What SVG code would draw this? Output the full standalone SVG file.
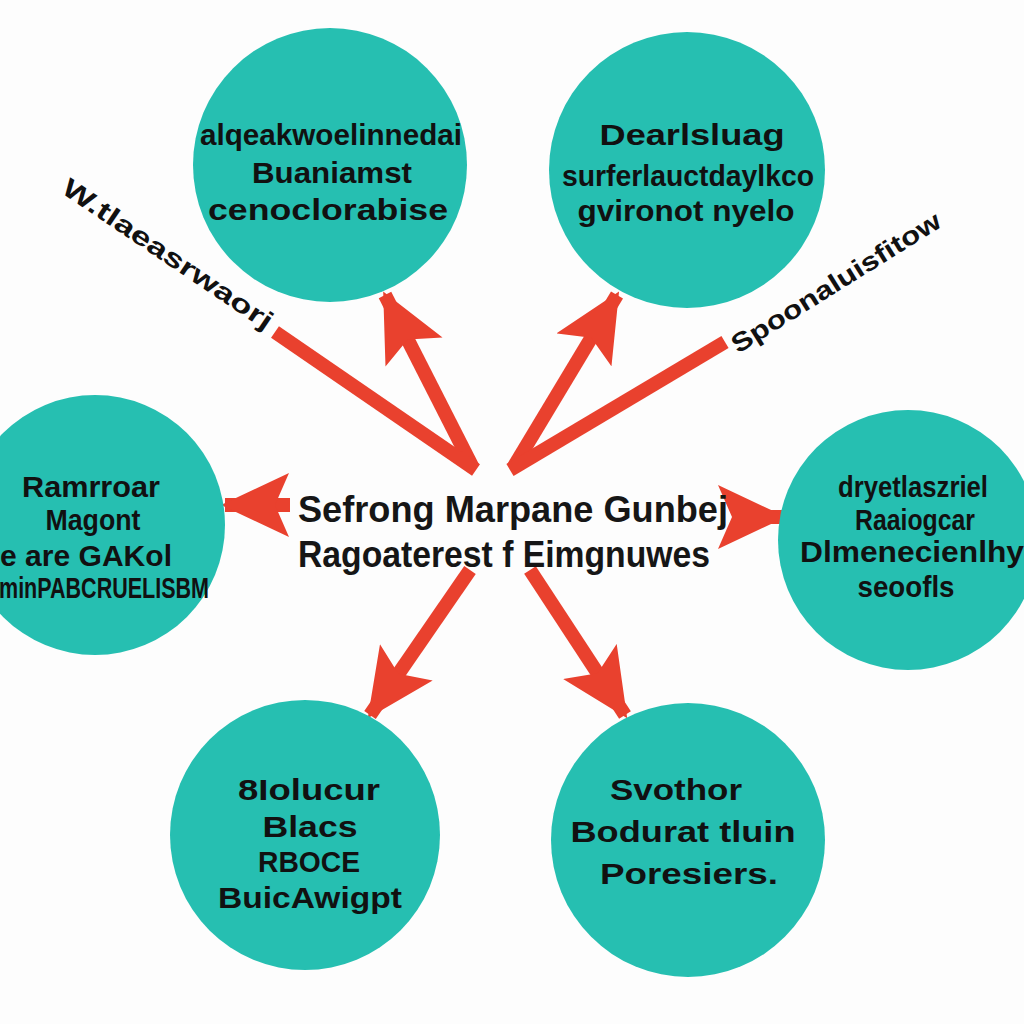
<svg xmlns="http://www.w3.org/2000/svg" width="1024" height="1024" viewBox="0 0 1024 1024">
<style>
.node{fill:#26bfb1}
.t{font-family:"Liberation Sans",Arial,sans-serif;font-weight:bold;fill:#111;text-anchor:middle}
.nt{font-size:29px}
.ct{font-size:37px;fill:#161616}
.lab{font-size:26px;text-anchor:start}
.ln{stroke:#e9412e;stroke-width:14;fill:none;stroke-linecap:butt}
</style>
<defs>
<marker id="ah" markerUnits="userSpaceOnUse" markerWidth="68" markerHeight="64" viewBox="0 0 68 64" refX="64" refY="32" orient="auto">
<path d="M0,0 L68,32 L0,64 L14,32 z" fill="#e9412e"/>
</marker>
</defs>
<rect width="1024" height="1024" fill="#fdfdfd"/>
<g id="connectors">
<line class="ln" x1="473" y1="468" x2="385" y2="295" marker-end="url(#ah)"/>
<line class="ln" x1="513" y1="468" x2="617" y2="295" marker-end="url(#ah)"/>
<line class="ln" x1="290" y1="505" x2="225" y2="505" marker-end="url(#ah)"/>
<line class="ln" x1="732" y1="517" x2="782" y2="517" marker-end="url(#ah)"/>
<line class="ln" x1="470" y1="570" x2="370" y2="715" marker-end="url(#ah)"/>
<line class="ln" x1="530" y1="570" x2="625" y2="715" marker-end="url(#ah)"/>
<line class="ln" x1="275" y1="332" x2="476" y2="470"/>
<line class="ln" x1="510" y1="470" x2="725" y2="342"/>
</g>
<g id="node-tl">
<circle class="node" cx="330" cy="165" r="137"/>
<text class="t nt" x="331" y="145" textLength="262" lengthAdjust="spacingAndGlyphs">alqeakwoelinnedai</text>
<text class="t nt" x="332" y="183" textLength="160" lengthAdjust="spacingAndGlyphs">Buaniamst</text>
<text class="t nt" x="328" y="220" textLength="240" lengthAdjust="spacingAndGlyphs">cenoclorabise</text>
</g>
<g id="node-tr">
<circle class="node" cx="687" cy="170" r="138"/>
<text class="t nt" x="692" y="145" textLength="185" lengthAdjust="spacingAndGlyphs">Dearlsluag</text>
<text class="t nt" x="688" y="186" textLength="252" lengthAdjust="spacingAndGlyphs">surferlauctdaylkco</text>
<text class="t nt" x="686" y="221" textLength="217" lengthAdjust="spacingAndGlyphs">gvironot nyelo</text>
</g>
<g id="node-l">
<circle class="node" cx="95" cy="525" r="130"/>
<text class="t nt" x="91" y="497" textLength="138" lengthAdjust="spacingAndGlyphs">Ramrroar</text>
<text class="t nt" x="93" y="530" textLength="95" lengthAdjust="spacingAndGlyphs">Magont</text>
<text class="t nt" x="86" y="566" textLength="172" lengthAdjust="spacingAndGlyphs">e are GAKol</text>
<text class="t nt" x="104" y="598" textLength="210" lengthAdjust="spacingAndGlyphs">minPABCRUELISBM</text>
</g>
<g id="node-r">
<circle class="node" cx="908" cy="540" r="130"/>
<text class="t nt" x="913" y="497" textLength="150" lengthAdjust="spacingAndGlyphs">dryetlaszriel</text>
<text class="t nt" x="915" y="530" textLength="120" lengthAdjust="spacingAndGlyphs">Raaiogcar</text>
<text class="t nt" x="912" y="562" textLength="224" lengthAdjust="spacingAndGlyphs">Dlmenecienlhy</text>
<text class="t nt" x="906" y="597" textLength="97" lengthAdjust="spacingAndGlyphs">seoofls</text>
</g>
<g id="node-bl">
<circle class="node" cx="305" cy="835" r="135"/>
<text class="t nt" x="309" y="800" textLength="142" lengthAdjust="spacingAndGlyphs">8Iolucur</text>
<text class="t nt" x="310" y="837" textLength="95" lengthAdjust="spacingAndGlyphs">Blacs</text>
<text class="t nt" x="309" y="872" textLength="102" lengthAdjust="spacingAndGlyphs">RBOCE</text>
<text class="t nt" x="310" y="908" textLength="184" lengthAdjust="spacingAndGlyphs">BuicAwigpt</text>
</g>
<g id="node-br">
<circle class="node" cx="688" cy="840" r="137"/>
<text class="t nt" x="676" y="800" textLength="132" lengthAdjust="spacingAndGlyphs">Svothor</text>
<text class="t nt" x="683" y="842" textLength="225" lengthAdjust="spacingAndGlyphs">Bodurat tluin</text>
<text class="t nt" x="689" y="884" textLength="178" lengthAdjust="spacingAndGlyphs">Poresiers.</text>
</g>
<g id="center">
<text class="t ct" x="513" y="522" textLength="430" lengthAdjust="spacingAndGlyphs">Sefrong Marpane Gunbej</text>
<text class="t ct" x="504" y="567" textLength="412" lengthAdjust="spacingAndGlyphs">Ragoaterest f Eimgnuwes</text>
</g>
<g id="labels">
<text class="t lab" transform="translate(60,192) rotate(34)" textLength="248" lengthAdjust="spacingAndGlyphs">W.tlaeasrwaorj</text>
<text class="t lab" transform="translate(738,354) rotate(-32)" textLength="242" lengthAdjust="spacingAndGlyphs">Spoonaluisfitow</text>
</g>
</svg>
